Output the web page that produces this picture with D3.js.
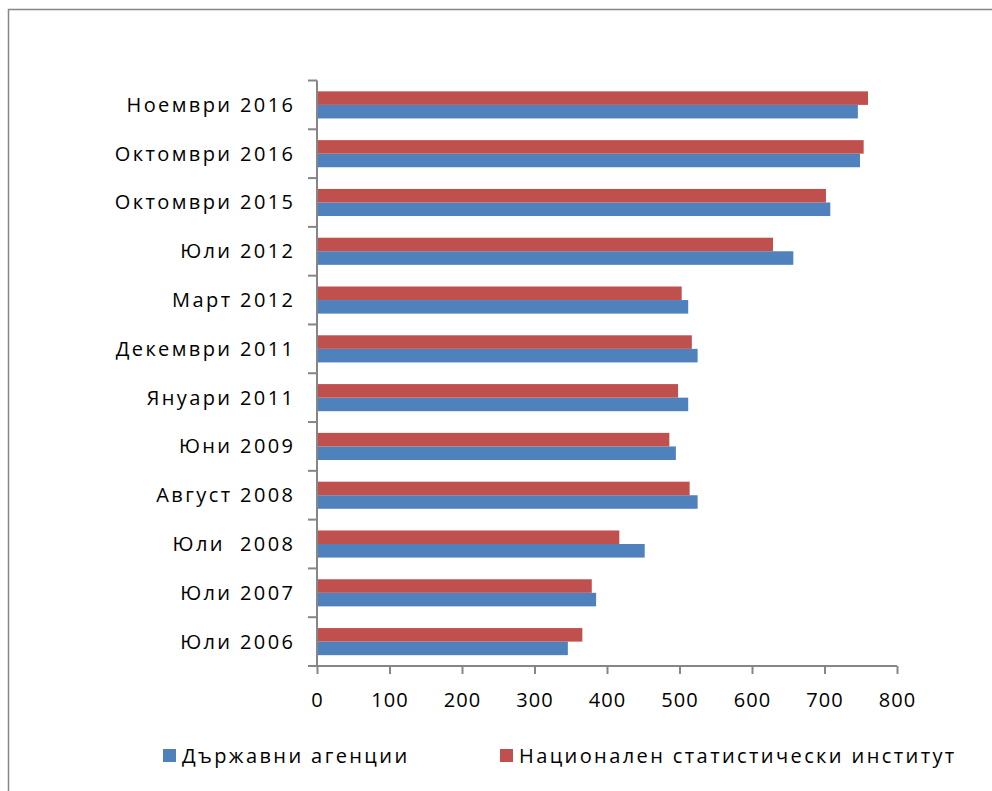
<!DOCTYPE html>
<html><head><meta charset="utf-8">
<script src="https://cdn.jsdelivr.net/npm/d3@7"></script>
<style>body{margin:0;background:#fff;} svg{display:block;font-family:"Open Sans","Noto Sans",sans-serif;}</style>
</head><body>
<svg id="c" width="992" height="791"></svg>
<script>
const categories = ["Юли 2006","Юли 2007","Юли  2008","Август 2008","Юни 2009","Януари 2011","Декември 2011","Март 2012","Юли 2012","Октомври 2015","Октомври 2016","Ноември 2016"];
const seriesNames = ["Държавни агенции","Национален статистически институт"];
const agencies = [346,385,452,525,495,512,525,512,657,708,749,746];
const nsi = [366,379,417,514,486,498,517,503,629,702,754,760];
const xTicks = [0,100,200,300,400,500,600,700,800];
const colors = ["#4F81BD","#C0504D"];

(function(){
const svg = d3.select("#c");
svg.append("rect").attr("x",8.5).attr("y",9.5).attr("width",1000).attr("height",800)
  .attr("fill","#fff").attr("stroke","#868686").attr("stroke-width",1.5);

const pLeft=317, pRight=897, pTop=80.5, pBottom=666;
const ls = 2.4;
const x = d3.scaleLinear().domain([0,800]).range([pLeft,pRight]);
const y = d3.scaleBand().domain(categories.slice().reverse()).range([pTop,pBottom]);
const inner = d3.scaleBand().domain([1,0]).range([0,y.bandwidth()]).paddingInner(0).paddingOuter(0.8);

const data = categories.map((c,i)=>({c, v:[agencies[i],nsi[i]]}));
const g = svg.append("g");
data.forEach(d=>{
  [0,1].forEach(s=>{
    g.append("rect").attr("x",x(0)).attr("y",y(d.c)+inner(s))
      .attr("width",x(d.v[s])-x(0)).attr("height",inner.bandwidth()).attr("fill",colors[s]);
  });
});

// y axis
const ya = svg.append("g");
ya.append("line").attr("x1",pLeft).attr("x2",pLeft).attr("y1",pTop).attr("y2",pBottom).attr("stroke","#868686").attr("stroke-width",2);
const yTickPos = d3.range(categories.length+1).map(i=>pTop+i*y.step());
yTickPos.forEach(p=>ya.append("line").attr("x1",pLeft-9).attr("x2",pLeft).attr("y1",p).attr("y2",p).attr("stroke","#868686").attr("stroke-width",2));
categories.forEach(c=>{
  ya.append("text").attr("x",293+ls).attr("y",y(c)+y.bandwidth()/2).attr("dy","0.35em")
    .attr("text-anchor","end").attr("font-size",20).attr("letter-spacing",ls).attr("fill","#000")
    .attr("xml:space","preserve").style("white-space","pre").text(c);
});

// x axis
const xa = svg.append("g").attr("transform",`translate(0,${pBottom})`);
xa.call(d3.axisBottom(x).tickValues(xTicks).tickSize(8).tickFormat(d3.format("d")));
xa.select(".domain").attr("stroke","#868686").attr("stroke-width",2).attr("d",`M${pLeft-9},0H${pRight}`);
xa.selectAll(".tick line").attr("stroke","#868686").attr("stroke-width",2);
xa.selectAll(".tick text").attr("font-size",20).attr("fill","#000").attr("y",27).attr("letter-spacing",1)
  .attr("font-family","'Open Sans','Noto Sans',sans-serif");

// legend
const leg = svg.append("g");
const legX = [163,500];
seriesNames.forEach((n,i)=>{
  leg.append("rect").attr("x",legX[i]).attr("y",749).attr("width",13).attr("height",13).attr("fill",colors[i]);
  leg.append("text").attr("x",legX[i]+19).attr("y",756).attr("dy","0.35em").attr("font-size",20)
    .attr("letter-spacing",ls).attr("fill","#000").text(n);
});
})();
</script>
</body></html>
